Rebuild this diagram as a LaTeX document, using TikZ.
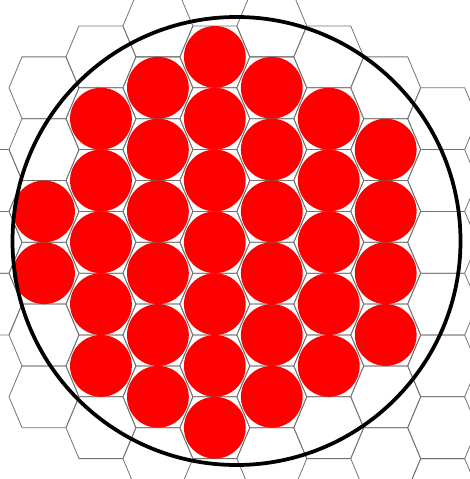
\documentclass[tikz,border=0pt]{standalone}
\usepackage{tikz}
\usetikzlibrary{calc}

\begin{document}
\begin{tikzpicture}[x=0.2mm, y=-0.2mm,
    hexline/.style={black!55, line width=0.45pt},
    pin/.style={fill=red},
    vessel/.style={black, line width=0.75mm}]
    %
    \useasboundingbox (0,0) rectangle (469,479);
    %
    % lattice cells
    \foreach \i/\lo/\hi in {-1/-2/2, 0/-5/5, 1/-6/6, 2/-7/7, 3/-6/6, 4/-7/7, 5/-6/6, 6/-5/7, 7/-4/8} {
      \pgfmathtruncatemacro{\nx}{\lo+2}
      \foreach \n in {\lo,\nx,...,\hi}
        \draw[hexline] ({44+56.95*\i}, {242.3+30.9*\n})
          +(35,0) -- +(22,30.9) -- +(-22,30.9) -- +(-35,0) -- +(-22,-30.9) -- +(22,-30.9) -- cycle;
    }
    %
    % pins
    \foreach \i/\lo/\hi in {0/-1/1, 1/-4/4, 2/-5/5, 3/-6/6, 4/-5/5, 5/-4/4, 6/-3/3} {
      \pgfmathtruncatemacro{\nx}{\lo+2}
      \foreach \n in {\lo,\nx,...,\hi}
        \fill[pin] ({44+56.95*\i}, {242.3+30.9*\n}) circle[radius=6.18mm];
    }
    %
    \coordinate (vC) at (236.5, 241);
    \draw[vessel] (vC) circle[radius=44.8mm];
\end{tikzpicture}
\end{document}
